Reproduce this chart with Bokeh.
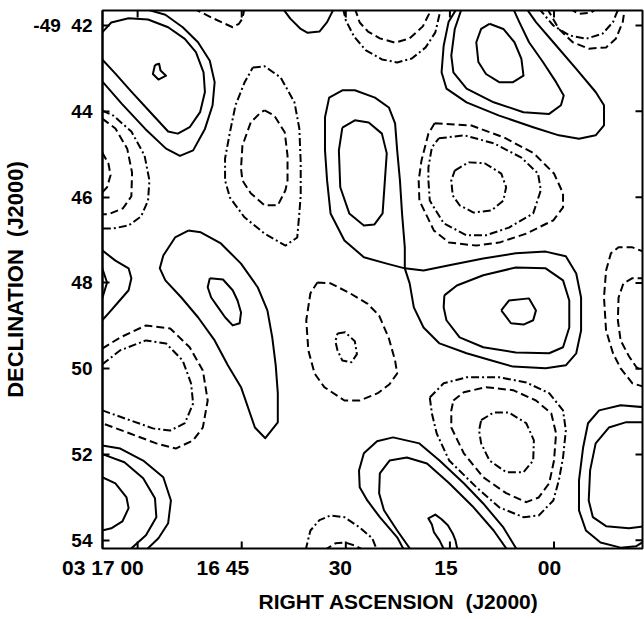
from math import pi
from bokeh.plotting import figure
from bokeh.models import Range1d, FixedTicker, Title, CustomJSTickFormatter
from bokeh.embed import file_html
from bokeh.resources import INLINE

# x: right ascension, seconds after 03h16m00s (J2000); y: declination, arcmin south of -49 deg
ra_ticks = [60, 45, 30, 15, 0]
ra_tick_labels = ["03 17 00", "16 45", "30", "15", "00"]
dec_ticks = [42, 44, 46, 48, 50, 52, 54]
dec_tick_labels = ["-49\u00a0\u00a042", "44", "46", "48", "50", "52", "54"]

# ---- contour traces (RA s, Dec ') read from the map ----
# positive (solid) contours
tl_core_ra = [57.5, 56.9, 56.7, 55.9, 57.0, 57.8, 57.5]
tl_core_dec = [42.92, 42.89, 43.05, 43.17, 43.26, 43.13, 42.92]
tl_mid_ra = [65.1, 63.8, 61.3, 58.5, 55.6, 53.2, 51.6, 50.5, 50.3, 51.0, 52.5, 54.2, 55.6, 58.0, 60.9, 63.2, 65.1]
tl_mid_dec = [42.16, 41.93, 41.83, 41.86, 42.04, 42.31, 42.62, 43.09, 43.55, 44.02, 44.37, 44.52, 44.47, 44.05, 43.54, 43.12, 42.79]
tl_out_ra = [59.2, 56.0, 53.5, 51.3, 49.6, 48.9, 49.2, 50.3, 52.0, 53.9, 55.9, 58.9, 62.3, 65.1]
tl_out_dec = [41.60, 41.75, 42.04, 42.39, 42.82, 43.32, 43.86, 44.41, 44.91, 45.04, 44.87, 44.41, 43.82, 43.30]
top_pos_ra = [39.1, 38.0, 36.5, 35.5, 33.8, 32.7, 31.7]
top_pos_dec = [41.60, 41.84, 42.08, 42.17, 42.14, 41.92, 41.60]
ctr_pos_out_ra = [21.5, 21.5, 21.9, 22.2, 22.6, 22.9, 23.8, 25.8, 28.7, 30.5, 32.4, 33.0, 33.0, 32.7, 32.2, 30.2, 27.4, 24.1, 21.5]
ctr_pos_out_dec = [47.66, 47.17, 46.38, 45.61, 44.91, 44.28, 43.91, 43.68, 43.51, 43.51, 43.68, 44.14, 44.91, 45.61, 46.38, 47.01, 47.40, 47.55, 47.66]
ctr_pos_in_ra = [30.5, 28.7, 26.7, 24.8, 24.1, 24.4, 24.7, 25.9, 27.4, 29.5, 30.8, 31.0, 30.5]
ctr_pos_in_dec = [44.38, 44.21, 44.26, 44.52, 44.98, 45.68, 46.38, 46.64, 46.66, 46.38, 45.77, 44.91, 44.38]
tr_pos_out_ra = [14.0, 15.2, 15.9, 16.2, 15.5, 12.6, 7.9, 3.0, -0.7, -3.6, -6.0, -7.2, -7.2, -6.0, -3.2, 0.1, 2.6, 4.0]
tr_pos_out_dec = [41.60, 41.92, 42.47, 43.09, 43.47, 43.79, 44.10, 44.37, 44.56, 44.64, 44.56, 44.33, 43.86, 43.55, 43.01, 42.39, 41.92, 41.60]
tr_pos_mid_ra = [13.3, 14.3, 14.8, 14.5, 12.6, 8.7, 4.4, 0.7, -1.0, -1.4, -0.3, 1.6, 3.6, 5.0, 5.9]
tr_pos_mid_dec = [41.60, 42.08, 42.70, 43.09, 43.47, 43.79, 44.02, 44.06, 43.86, 43.63, 43.32, 42.85, 42.39, 41.92, 41.60]
tr_pos_in_ra = [9.3, 7.3, 5.7, 4.7, 4.4, 5.9, 7.9, 9.8, 10.9, 11.2, 10.5, 9.3]
tr_pos_in_dec = [41.96, 42.08, 42.39, 42.78, 43.17, 43.32, 43.32, 43.13, 42.85, 42.39, 42.08, 41.96]
r_pos_out_ra = [21.5, 18.8, 15.1, 10.2, 5.5, 1.2, -1.7, -3.2, -3.9, -3.9, -3.2, -1.7, 1.2, 5.9, 9.0, 12.6, 16.5, 18.8, 20.2, 20.8, 21.5]
r_pos_out_dec = [47.66, 47.71, 47.59, 47.43, 47.31, 47.27, 47.38, 47.78, 48.34, 49.11, 49.64, 49.92, 49.99, 49.95, 49.81, 49.64, 49.41, 49.04, 48.57, 48.01, 47.66]
r_pos_mid_ra = [15.8, 14.0, 10.2, 5.5, 1.2, -1.3, -2.2, -2.2, -1.3, 0.7, 5.5, 10.2, 13.6, 15.5, 15.9, 15.8]
r_pos_mid_dec = [48.29, 48.06, 47.82, 47.64, 47.66, 47.94, 48.41, 49.04, 49.50, 49.64, 49.62, 49.50, 49.27, 48.87, 48.57, 48.29]
r_pos_in_ra = [7.6, 6.5, 3.6, 2.6, 3.0, 4.4, 6.2, 7.6]
r_pos_in_dec = [48.64, 48.41, 48.36, 48.64, 48.87, 48.97, 48.94, 48.64]
l_pos_out_ra = [52.7, 50.9, 48.0, 45.1, 42.7, 41.3, 40.6, 40.1, 39.8, 39.8, 41.6, 43.1, 45.1, 47.0, 48.9, 51.3, 53.7, 56.0, 56.8, 56.3, 54.6, 52.7]
l_pos_out_dec = [46.78, 46.82, 47.08, 47.55, 48.10, 48.64, 49.27, 49.92, 50.57, 51.25, 51.62, 51.37, 50.43, 49.92, 49.34, 48.80, 48.34, 47.94, 47.66, 47.36, 46.94, 46.78]
l_pos_in_ra = [49.6, 47.7, 46.3, 45.6, 45.1, 45.3, 46.3, 47.4, 48.4, 49.4, 49.9, 49.6]
l_pos_in_dec = [47.89, 47.92, 48.17, 48.41, 48.69, 48.94, 48.99, 48.80, 48.57, 48.34, 48.10, 47.89]
le_pos_out_ra = [65.1, 63.2, 61.3, 60.9, 61.3, 62.8, 64.2, 65.1]
le_pos_out_dec = [47.24, 47.48, 47.66, 47.89, 48.17, 48.45, 48.71, 48.87]
le_pos_in_ra = [65.1, 64.4, 65.1]
le_pos_in_dec = [47.66, 47.99, 48.36]
bl_pos_out_ra = [65.1, 62.5, 59.2, 56.3, 55.2, 55.6, 57.0, 58.8]
bl_pos_out_dec = [51.79, 51.86, 52.14, 52.53, 53.07, 53.60, 53.95, 54.23]
bl_pos_mid_ra = [65.1, 61.9, 59.2, 57.5, 57.3, 58.8, 61.2]
bl_pos_mid_dec = [51.99, 52.18, 52.55, 53.02, 53.46, 53.88, 54.23]
bl_pos_in_ra = [65.1, 63.2, 61.6, 61.3, 62.2, 63.8, 65.1]
bl_pos_in_dec = [52.53, 52.67, 53.00, 53.25, 53.56, 53.72, 53.77]
b_pos_out_ra = [21.6, 22.6, 25.1, 26.9, 28.0, 28.1, 27.4, 25.5, 23.2, 19.4, 16.5, 13.0, 10.2, 7.3, 5.3]
b_pos_out_dec = [54.23, 53.93, 53.46, 53.07, 52.76, 52.37, 51.97, 51.69, 51.60, 51.74, 52.14, 52.67, 53.14, 53.70, 54.23]
b_pos_mid_ra = [20.6, 22.6, 24.5, 25.2, 25.1, 23.7, 21.2, 18.3, 15.1, 11.6, 8.7, 6.7]
b_pos_mid_dec = [54.23, 53.77, 53.30, 52.90, 52.44, 52.14, 52.07, 52.21, 52.67, 53.23, 53.77, 54.23]
b_pos_in_ra = [15.8, 16.5, 17.3, 17.6, 18.1, 17.1, 16.2, 15.3, 14.6, 14.2, 13.9]
b_pos_in_dec = [54.23, 54.00, 53.81, 53.63, 53.49, 53.40, 53.51, 53.65, 53.84, 54.00, 54.23]
rb_pos_out_ra = [-13.2, -9.6, -6.5, -4.9, -4.2, -3.6, -3.6, -4.6, -6.7, -9.6, -11.8, -13.2]
rb_pos_out_dec = [50.90, 50.85, 50.97, 51.27, 51.83, 52.60, 53.30, 53.77, 54.05, 54.17, 54.14, 54.00]
rb_pos_mid_ra = [-13.2, -10.3, -7.9, -6.0, -5.2, -5.0, -5.6, -7.5, -10.8, -13.2]
rb_pos_mid_dec = [51.25, 51.25, 51.37, 51.74, 52.37, 53.07, 53.46, 53.67, 53.72, 53.67]

# negative (dashed) contours
lft_neg_out_ra = [65.1, 63.5, 60.9, 59.0, 58.3, 58.5, 59.5, 61.3, 63.5, 65.1]
lft_neg_out_dec = [43.98, 44.10, 44.47, 45.03, 45.61, 46.08, 46.45, 46.66, 46.73, 46.73]
lft_neg_mid_ra = [65.1, 63.2, 61.5, 60.8, 60.9, 62.1, 64.2, 65.1]
lft_neg_mid_dec = [44.17, 44.40, 44.87, 45.43, 45.98, 46.26, 46.40, 46.40]
lft_neg_in_ra = [65.1, 64.2, 63.9, 64.4, 65.1]
lft_neg_in_dec = [44.96, 45.22, 45.49, 45.77, 45.89]
cl_neg_out_ra = [43.4, 41.7, 39.4, 37.4, 36.7, 36.5, 36.5, 36.7, 37.0, 38.7, 41.7, 44.6, 46.7, 47.4, 47.4, 46.7, 45.9, 44.6, 43.4]
cl_neg_out_dec = [42.98, 42.95, 43.21, 43.79, 44.40, 45.19, 45.96, 46.38, 46.94, 47.13, 46.85, 46.47, 46.01, 45.61, 45.10, 44.49, 43.86, 43.33, 42.98]
cl_neg_in_ra = [41.7, 40.3, 38.8, 38.4, 38.4, 38.7, 39.8, 41.7, 43.7, 44.9, 45.1, 44.9, 43.7, 42.3, 41.7]
cl_neg_in_dec = [43.98, 44.10, 44.49, 45.03, 45.61, 45.84, 46.19, 46.19, 45.91, 45.61, 45.33, 44.80, 44.26, 44.03, 43.98]
top_neg_ra = [52.0, 49.4, 47.4, 46.3, 45.4, 44.9, 44.6]
top_neg_dec = [41.60, 41.81, 41.96, 42.04, 41.96, 41.84, 41.60]
tc_neg_in_ra = [28.7, 28.0, 26.8, 25.1, 22.9, 20.8, 18.9, 17.6]
tc_neg_in_dec = [41.60, 41.93, 42.14, 42.30, 42.40, 42.30, 42.02, 41.60]
tc_neg_out_ra = [30.4, 30.0, 28.8, 27.1, 24.8, 22.6, 20.5, 18.5, 17.1, 16.3]
tc_neg_out_dec = [41.60, 41.88, 42.26, 42.58, 42.79, 42.86, 42.77, 42.51, 42.16, 41.60]
tr_neg_out_ra = [1.0, -0.7, -2.7, -5.0, -7.5, -8.9, -9.9, -10.2]
tr_neg_out_dec = [41.60, 42.08, 42.39, 42.54, 42.51, 42.31, 41.92, 41.60]
tr_neg_mid_ra = [2.2, 0.1, -2.2, -4.6, -7.0, -8.5, -9.3]
tr_neg_mid_dec = [41.60, 42.00, 42.23, 42.31, 42.19, 41.92, 41.60]
tr_neg_in_ra = [-2.2, -3.6, -5.3, -6.2]
tr_neg_in_dec = [41.60, 41.73, 41.70, 41.60]
mid_neg_out_ra = [17.2, 11.9, 7.2, 2.9, 0.0, -1.3, -1.3, 0.1, 4.0, 7.9, 11.2, 15.1, 17.3, 19.4, 19.5, 19.1, 18.1, 17.2]
mid_neg_out_dec = [44.28, 44.33, 44.61, 44.98, 45.45, 45.91, 46.24, 46.54, 46.85, 47.06, 47.13, 47.06, 46.78, 46.08, 45.61, 45.15, 44.52, 44.28]
mid_neg_mid_ra = [16.6, 12.9, 8.6, 4.7, 2.3, 1.9, 3.0, 6.5, 9.8, 12.6, 15.9, 17.9, 18.1, 18.1, 17.6, 16.6]
mid_neg_mid_dec = [44.63, 44.56, 44.75, 45.08, 45.45, 45.84, 46.38, 46.71, 46.89, 46.89, 46.61, 46.08, 45.61, 45.31, 44.84, 44.63]
mid_neg_in_ra = [14.3, 12.3, 10.0, 7.6, 6.9, 7.3, 9.0, 11.6, 13.6, 14.6, 14.8, 14.3]
mid_neg_in_dec = [45.38, 45.19, 45.21, 45.45, 45.77, 46.08, 46.31, 46.36, 46.19, 45.96, 45.61, 45.38]
bl_neg_out_ra = [65.1, 62.5, 58.8, 55.3, 52.5, 50.6, 49.9, 50.6, 52.0, 54.5, 57.3, 61.1, 65.1]
bl_neg_out_dec = [49.53, 49.27, 48.99, 49.06, 49.50, 50.04, 50.74, 51.37, 51.67, 51.86, 51.74, 51.51, 51.27]
bl_neg_in_ra = [65.1, 62.5, 58.8, 55.9, 53.5, 52.3, 52.0, 53.2, 55.3, 57.8, 61.1, 65.1]
bl_neg_in_dec = [49.90, 49.57, 49.34, 49.41, 49.81, 50.34, 50.81, 51.27, 51.44, 51.39, 51.20, 50.97]
c_neg_out_ra = [34.1, 32.2, 29.4, 26.9, 25.2, 23.8, 22.9, 22.6, 23.7, 25.4, 28.0, 30.2, 33.1, 34.5, 35.4, 35.7, 35.1, 34.1]
c_neg_out_dec = [47.99, 48.01, 48.24, 48.48, 48.76, 49.29, 49.81, 50.11, 50.36, 50.57, 50.74, 50.74, 50.43, 50.11, 49.57, 48.87, 48.24, 47.99]
c_neg_in_ra = [31.2, 30.1, 28.7, 28.4, 29.2, 30.5, 31.2, 31.5, 31.2]
c_neg_in_dec = [49.18, 49.15, 49.36, 49.66, 49.85, 49.81, 49.57, 49.36, 49.18]
br_neg_out_ra = [17.9, 15.9, 12.6, 7.9, 4.0, 0.7, -1.3, -1.7, -1.3, -0.7, 0.1, 2.2, 4.4, 7.9, 11.2, 15.1, 16.9, 17.6, 17.9]
br_neg_out_dec = [50.67, 50.34, 50.20, 50.20, 50.32, 50.57, 50.97, 51.44, 52.07, 52.60, 53.07, 53.42, 53.46, 53.23, 52.76, 52.14, 51.51, 51.04, 50.67]
br_neg_mid_ra = [14.5, 13.0, 9.8, 5.9, 2.6, 0.4, -0.3, 0.0, 0.7, 2.2, 4.0, 6.9, 10.2, 13.0, 14.8, 14.8, 14.5]
br_neg_mid_dec = [50.74, 50.55, 50.43, 50.50, 50.74, 51.04, 51.51, 52.14, 52.67, 53.00, 53.11, 52.90, 52.53, 51.97, 51.37, 50.97, 50.74]
br_neg_in_ra = [10.5, 8.7, 6.5, 4.0, 2.9, 3.0, 4.4, 6.9, 9.3, 10.5, 10.8, 10.5]
br_neg_in_dec = [51.20, 51.02, 51.02, 51.27, 51.67, 52.14, 52.41, 52.41, 52.14, 51.74, 51.44, 51.20]
b_neg_out_ra = [35.8, 35.1, 33.8, 32.2, 30.2, 28.0, 26.2, 25.5]
b_neg_out_dec = [54.23, 53.77, 53.53, 53.42, 53.46, 53.70, 53.95, 54.23]
b_neg_in_ra = [33.1, 31.5, 30.1, 28.7, 27.4]
b_neg_in_dec = [54.23, 54.07, 54.05, 54.12, 54.23]
re_neg_out_ra = [-13.2, -11.3, -9.3, -8.2, -7.5, -7.2, -7.5, -8.5, -9.6, -11.3, -13.2]
re_neg_out_dec = [47.29, 47.17, 47.17, 47.31, 47.71, 48.34, 49.11, 49.64, 49.99, 50.34, 50.43]
re_neg_in_ra = [-13.2, -11.3, -10.0, -9.3, -9.2, -9.6, -10.8, -11.9, -13.2]
re_neg_in_dec = [47.89, 47.89, 48.01, 48.34, 48.87, 49.34, 49.71, 49.97, 50.09]

solid = [
    (tl_core_ra, tl_core_dec), (tl_mid_ra, tl_mid_dec), (tl_out_ra, tl_out_dec),
    (top_pos_ra, top_pos_dec), (ctr_pos_out_ra, ctr_pos_out_dec), (ctr_pos_in_ra, ctr_pos_in_dec),
    (tr_pos_out_ra, tr_pos_out_dec), (tr_pos_mid_ra, tr_pos_mid_dec), (tr_pos_in_ra, tr_pos_in_dec),
    (r_pos_out_ra, r_pos_out_dec), (r_pos_mid_ra, r_pos_mid_dec), (r_pos_in_ra, r_pos_in_dec),
    (l_pos_out_ra, l_pos_out_dec), (l_pos_in_ra, l_pos_in_dec),
    (le_pos_out_ra, le_pos_out_dec), (le_pos_in_ra, le_pos_in_dec),
    (bl_pos_out_ra, bl_pos_out_dec), (bl_pos_mid_ra, bl_pos_mid_dec), (bl_pos_in_ra, bl_pos_in_dec),
    (b_pos_out_ra, b_pos_out_dec), (b_pos_mid_ra, b_pos_mid_dec), (b_pos_in_ra, b_pos_in_dec),
    (rb_pos_out_ra, rb_pos_out_dec), (rb_pos_mid_ra, rb_pos_mid_dec),
]
dashed = [
    (lft_neg_mid_ra, lft_neg_mid_dec), (lft_neg_in_ra, lft_neg_in_dec),
    (cl_neg_in_ra, cl_neg_in_dec), (top_neg_ra, top_neg_dec), (tc_neg_in_ra, tc_neg_in_dec),
    (tr_neg_out_ra, tr_neg_out_dec), (tr_neg_in_ra, tr_neg_in_dec),
    (mid_neg_out_ra, mid_neg_out_dec), (bl_neg_out_ra, bl_neg_out_dec),
    (c_neg_out_ra, c_neg_out_dec), (br_neg_mid_ra, br_neg_mid_dec),
    (b_neg_in_ra, b_neg_in_dec), (re_neg_out_ra, re_neg_out_dec), (re_neg_in_ra, re_neg_in_dec),
]
dashdot = [
    (lft_neg_out_ra, lft_neg_out_dec), (cl_neg_out_ra, cl_neg_out_dec), (tc_neg_out_ra, tc_neg_out_dec),
    (tr_neg_mid_ra, tr_neg_mid_dec), (mid_neg_mid_ra, mid_neg_mid_dec), (mid_neg_in_ra, mid_neg_in_dec),
    (bl_neg_in_ra, bl_neg_in_dec), (c_neg_in_ra, c_neg_in_dec),
    (br_neg_out_ra, br_neg_out_dec), (br_neg_in_ra, br_neg_in_dec), (b_neg_out_ra, b_neg_out_dec),
]

FONT = "Liberation Sans"
X0, X1 = 65.06, -12.75     # frame edges, RA seconds
Y0, Y1 = 54.19, 41.65      # frame edges, Dec arcmin (bottom, top)
PX_PER_S = 6.978

p = figure(width=644, height=619, output_backend="svg", toolbar_location=None,
           x_range=Range1d(X0, X1), y_range=Range1d(Y0, Y1),
           min_border_left=99, min_border_right=2, min_border_top=10, min_border_bottom=71,
           background_fill_color="white", border_fill_color="white")
p.grid.visible = False
p.outline_line_color = "black"
p.outline_line_width = 2

for xs, ys in solid:
    p.line(xs, ys, line_color="black", line_width=2, line_join="round")
for xs, ys in dashed:
    p.line(xs, ys, line_color="black", line_width=2, line_dash="8 4", line_join="round")
for xs, ys in dashdot:
    p.line(xs, ys, line_color="black", line_width=2, line_dash="8 3 2 3", line_join="round")

# inward tick marks on the bottom, top and right frame edges
tick_kw = dict(length=7, length_units="screen", line_color="black", line_width=2)
p.ray(x=ra_ticks, y=[Y0] * len(ra_ticks), angle=pi / 2, **tick_kw)
p.ray(x=ra_ticks, y=[Y1] * len(ra_ticks), angle=-pi / 2, **tick_kw)
p.ray(x=[X1] * len(dec_ticks), y=dec_ticks, angle=pi, **tick_kw)

# left axis: ticks, labels, title
yl = p.yaxis[0]
yl.ticker = FixedTicker(ticks=dec_ticks)
yl.major_tick_in = 7
yl.major_tick_out = 0
yl.major_tick_line_width = 2
yl.minor_tick_line_color = None
yl.axis_line_color = "black"
yl.axis_line_width = 2
yl.major_label_overrides = {t: lab for t, lab in zip(dec_ticks, dec_tick_labels)}
yl.major_label_text_font = FONT
yl.major_label_text_font_style = "bold"
yl.major_label_text_font_size = "19px"
yl.major_label_text_color = "black"
yl.major_label_standoff = 10
yl.axis_label = "DECLINATION\u00a0\u00a0(J2000)"
yl.axis_label_text_font = FONT
yl.axis_label_text_font_style = "bold"
yl.axis_label_text_font_size = "22px"
yl.axis_label_text_color = "black"
yl.axis_label_standoff = 2

# bottom axis: labels only; each label sits left of its tick as in the original print
label_dx_px = [-37, -19, -5.5, -4, -4.5]
label_pos = [min(t - dx / PX_PER_S, X0 - 0.06) for t, dx in zip(ra_ticks, label_dx_px)]
xb = p.xaxis[0]
xb.ticker = FixedTicker(ticks=label_pos)
xb.formatter = CustomJSTickFormatter(
    args=dict(pos=label_pos, labels=ra_tick_labels),
    code="""
    let best = 0;
    for (let i = 0; i < pos.length; i++) {
        if (Math.abs(pos[i] - tick) < Math.abs(pos[best] - tick)) { best = i; }
    }
    return labels[best];
    """)
xb.major_tick_line_color = None
xb.major_tick_in = 0
xb.major_tick_out = 0
xb.minor_tick_line_color = None
xb.minor_tick_in = 0
xb.minor_tick_out = 0
xb.axis_line_color = None
xb.major_label_text_font = FONT
xb.major_label_text_font_style = "bold"
xb.major_label_text_font_size = "21px"
xb.major_label_text_line_height = 1.0
xb.major_label_text_color = "black"
xb.major_label_standoff = 7

# x-axis title, set right of the frame centre as in the original
p.add_layout(Title(text="RIGHT ASCENSION\u00a0\u00a0(J2000)", align="left", offset=156, standoff=13,
                   text_font=FONT, text_font_style="bold", text_font_size="21px",
                   text_color="black"), "below")

open("out.html", "w").write(file_html(p, INLINE))
